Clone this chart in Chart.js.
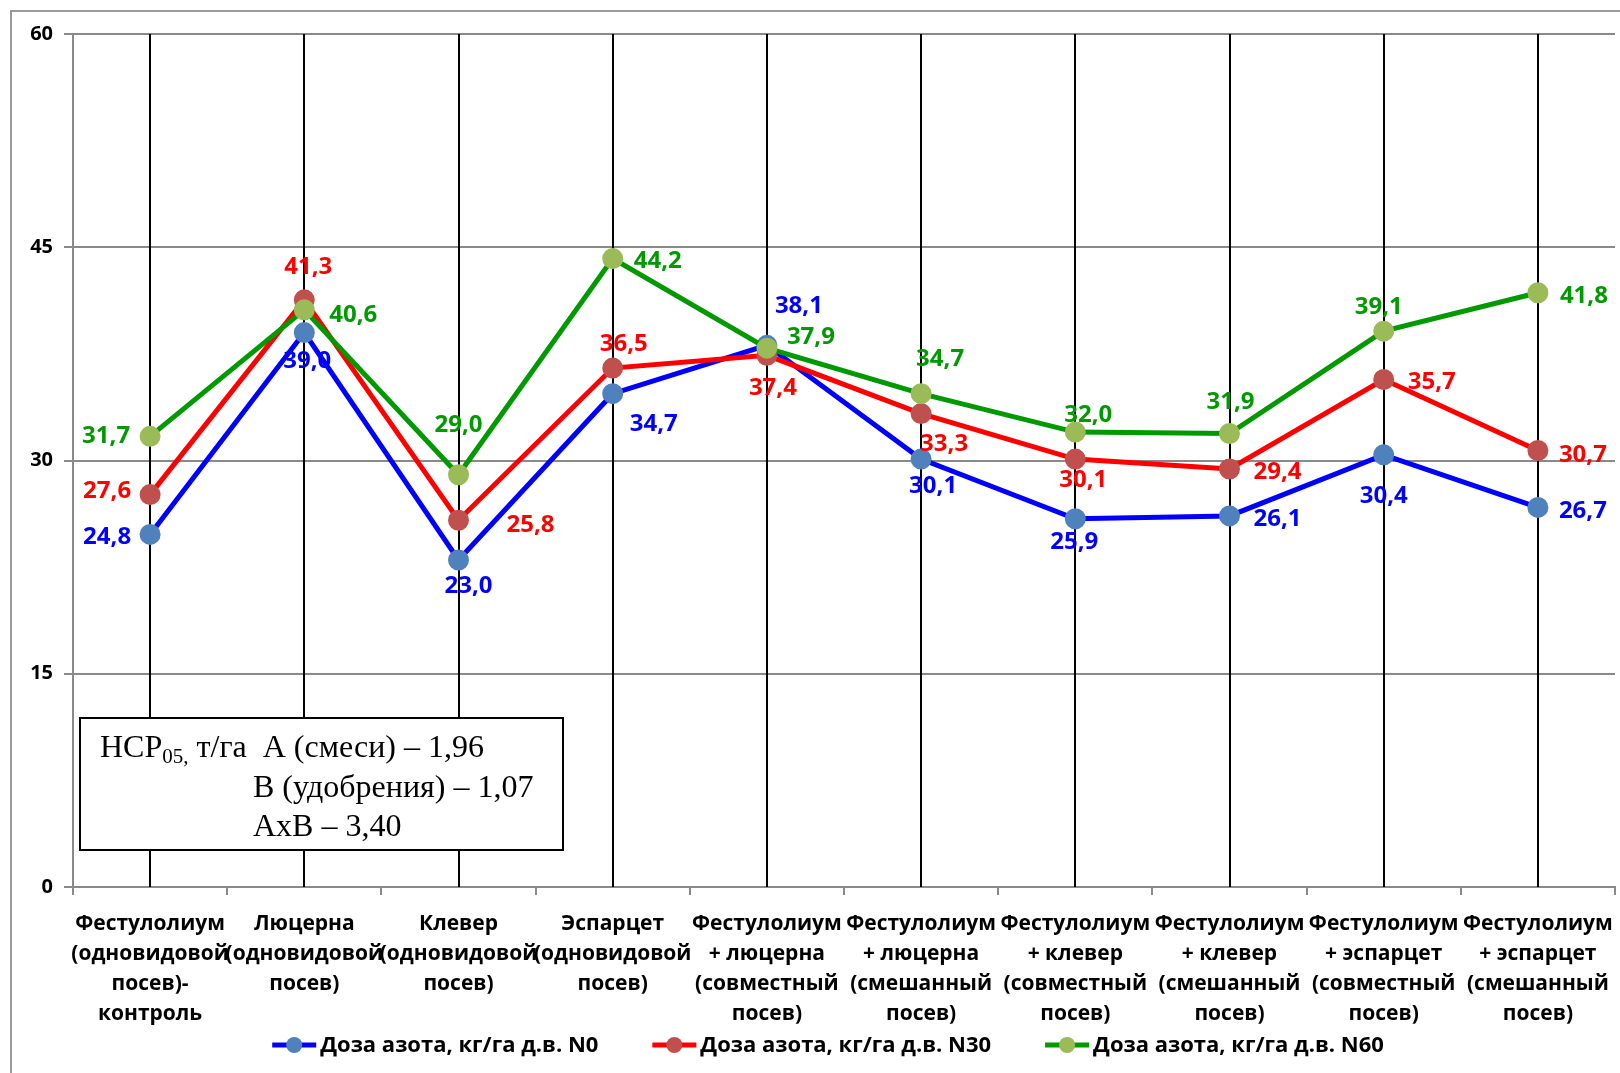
<!DOCTYPE html>
<html>
<head>
<meta charset="utf-8">
<script src="https://cdn.jsdelivr.net/npm/chart.js@4"></script>
<style>
  html, body { margin: 0; padding: 0; background: #fff; }
  canvas { display: block; }
</style>
</head>
<body>
<canvas id="chart" width="1620" height="1073"></canvas>
<script>
const categories = [
    ['Фестулолиум', '(одновидовой', 'посев)-', 'контроль'],
    ['Люцерна', '(одновидовой', 'посев)'],
    ['Клевер', '(одновидовой', 'посев)'],
    ['Эспарцет', '(одновидовой', 'посев)'],
    ['Фестулолиум', '+ люцерна', '(совместный', 'посев)'],
    ['Фестулолиум', '+ люцерна', '(смешанный', 'посев)'],
    ['Фестулолиум', '+ клевер', '(совместный', 'посев)'],
    ['Фестулолиум', '+ клевер', '(смешанный', 'посев)'],
    ['Фестулолиум', '+ эспарцет', '(совместный', 'посев)'],
    ['Фестулолиум', '+ эспарцет', '(смешанный', 'посев)']
];
const seriesNames = [
    'Доза азота, кг/га д.в. N0',
    'Доза азота, кг/га д.в. N30',
    'Доза азота, кг/га д.в. N60'
];
const n0 = [24.8, 39.0, 23.0, 34.7, 38.1, 30.1, 25.9, 26.1, 30.4, 26.7];
const n30 = [27.6, 41.3, 25.8, 36.5, 37.4, 33.3, 30.1, 29.4, 35.7, 30.7];
const n60 = [31.7, 40.6, 29.0, 44.2, 37.9, 34.7, 32.0, 31.9, 39.1, 41.8];
const yTicks = [0, 15, 30, 45, 60];
const noteLines = ['А (смеси) – 1,96', 'В (удобрения) – 1,07', 'АхВ – 3,40'];

// label placement relative to each point (px)
const labelOffsets = [
    [[-43, 3], [3, 29], [10, 26], [41, 30], [32, -39], [12, 27], [-1, 23], [48, 3], [0, 41], [45, 4]],
    [[-43, -3], [4, -33], [72, 5], [11, -24], [6, 33], [23, 31], [8, 21], [48, 3], [48, 3], [45, 5]],
    [[-44, 0], [49, 5], [0, -50], [45, 3], [44, -11], [19, -35], [13, -17], [1, -31], [-5, -24], [46, 3]]
];
const lineColors = ['#0000ff', '#ff0000', '#009900'];
const markerColors = ['#4f81bd', '#c0504d', '#9bbb59'];
const textColors = ['#0000ff', '#ff0000', '#009900'];
const GRID = '#8a8a8a';
const FONT = '"Open Sans", "Noto Sans", sans-serif';

const decoPlugin = {
    id: 'deco',
    beforeDatasetsDraw(chart) {
        const ctx = chart.ctx;
        const x = chart.scales.x;
        const area = chart.chartArea;
        ctx.save();
        ctx.strokeStyle = '#000';
        ctx.lineWidth = 2;
        categories.forEach((c, i) => {
            const px = Math.round(x.getPixelForValue(i));
            ctx.beginPath();
            ctx.moveTo(px, area.top);
            ctx.lineTo(px, area.bottom);
            ctx.stroke();
        });
        ctx.restore();
    },
    afterDatasetsDraw(chart) {
        const ctx = chart.ctx;
        ctx.save();
        ctx.font = 'bold 24px ' + FONT;
        ctx.textAlign = 'center';
        ctx.textBaseline = 'middle';
        chart.data.datasets.forEach((ds, i) => {
            const meta = chart.getDatasetMeta(i);
            ctx.fillStyle = textColors[i];
            meta.data.forEach((pt, j) => {
                const off = labelOffsets[i][j];
                const txt = ds.data[j].toFixed(1).replace('.', ',');
                ctx.fillText(txt, pt.x + off[0], pt.y + off[1]);
            });
        });
        ctx.restore();
    },
    afterDraw(chart) {
        const ctx = chart.ctx;
        ctx.save();
        // outer frame (left and top edges visible)
        ctx.strokeStyle = '#9a9a9a';
        ctx.lineWidth = 2;
        ctx.beginPath();
        ctx.moveTo(11, 1073);
        ctx.lineTo(11, 11);
        ctx.lineTo(1620, 11);
        ctx.stroke();

        // НСР note box
        ctx.fillStyle = '#fff';
        ctx.fillRect(80, 718, 483, 132);
        ctx.strokeStyle = '#000';
        ctx.lineWidth = 2;
        ctx.strokeRect(80, 718, 483, 132);
        ctx.fillStyle = '#000';
        ctx.textBaseline = 'alphabetic';
        ctx.textAlign = 'left';
        const serif = '"Liberation Serif", "Times New Roman", serif';
        let tx = 100;
        ctx.font = '32px ' + serif;
        ctx.fillText('НСР', tx, 757);
        tx += ctx.measureText('НСР').width;
        ctx.font = '21px ' + serif;
        ctx.fillText('05,', tx, 763);
        tx += ctx.measureText('05,').width;
        ctx.font = '32px ' + serif;
        ctx.fillText(' т/га  ' + noteLines[0], tx, 757);
        ctx.fillText(noteLines[1], 253, 797);
        ctx.fillText(noteLines[2], 253, 836);

        // legend
        ctx.font = 'bold 22px ' + FONT;
        ctx.textBaseline = 'middle';
        const gap = 54, lineLen = 44;
        const widths = seriesNames.map(s => ctx.measureText(s).width);
        const total = widths.reduce((a, w) => a + lineLen + 4 + w, 0) + gap * (seriesNames.length - 1);
        let lx = 828 - total / 2;
        const ly = 1045;
        seriesNames.forEach((s, i) => {
            ctx.strokeStyle = lineColors[i];
            ctx.lineWidth = 5;
            ctx.beginPath();
            ctx.moveTo(lx, ly);
            ctx.lineTo(lx + lineLen, ly);
            ctx.stroke();
            ctx.fillStyle = markerColors[i];
            ctx.beginPath();
            ctx.arc(lx + lineLen / 2, ly, 8, 0, Math.PI * 2);
            ctx.fill();
            ctx.fillStyle = '#000';
            ctx.fillText(s, lx + lineLen + 4, ly + 1);
            lx += lineLen + 4 + widths[i] + gap;
        });
        ctx.restore();
    }
};

const seriesData = [n0, n30, n60];
const datasets = seriesData.map((d, i) => ({
    label: seriesNames[i],
    data: d,
    borderColor: lineColors[i],
    backgroundColor: markerColors[i],
    pointBackgroundColor: markerColors[i],
    pointBorderColor: markerColors[i],
    pointRadius: 8,
    pointHoverRadius: 8,
    borderWidth: 5,
    tension: 0,
    order: 2 - i
}));

new Chart(document.getElementById('chart').getContext('2d'), {
    type: 'line',
    data: { labels: categories, datasets: datasets },
    options: {
        responsive: false,
        animation: false,
        devicePixelRatio: 1,
        layout: { autoPadding: false, padding: { left: 0, top: 34, right: 5, bottom: 0 } },
        plugins: {
            legend: { display: false },
            tooltip: { enabled: false }
        },
        scales: {
            x: {
                offset: true,
                afterFit: s => { s.height = 186; s.paddingLeft = 0; s.paddingRight = 0; },
                grid: {
                    offset: true,
                    drawOnChartArea: false,
                    color: GRID,
                    lineWidth: 2,
                    tickLength: 8
                },
                border: { color: GRID, width: 2 },
                ticks: {
                    autoSkip: false,
                    maxRotation: 0,
                    minRotation: 0,
                    padding: 14,
                    color: '#000',
                    font: { family: FONT, weight: 'bold', size: 21, lineHeight: 1.43 }
                }
            },
            y: {
                min: 0,
                max: 60,
                afterFit: s => { s.width = 73; },
                afterBuildTicks: s => { s.ticks = yTicks.map(v => ({ value: v })); },
                grid: {
                    color: GRID,
                    lineWidth: 2,
                    tickLength: 9
                },
                border: { color: GRID, width: 2 },
                ticks: {
                    padding: 11,
                    color: '#000',
                    font: { family: FONT, weight: 'bold', size: 20 }
                }
            }
        }
    },
    plugins: [decoPlugin]
});
</script>
</body>
</html>
